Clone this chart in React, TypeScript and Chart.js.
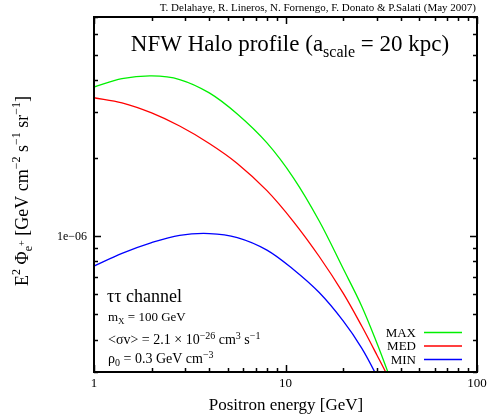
import React, { useEffect, useRef } from "react";
import { Chart, registerables } from "chart.js";

Chart.register(...registerables);

// ---- data ----
const energy = [1, 1.4, 2, 2.8, 4, 5.6, 8, 11, 15, 20, 25, 30, 35, 40];
const fluxMax = [3.76e-6, 4.05e-6, 4.15e-6, 4.02e-6, 3.57e-6, 2.96e-6, 2.29e-6, 1.68e-6, 1.145e-6, 7.51e-7, 5.38e-7, 3.88e-7, 2.87e-7, 2.18e-7];
const fluxMed = [3.42e-6, 3.27e-6, 2.99e-6, 2.66e-6, 2.28e-6, 1.91e-6, 1.5e-6, 1.14e-6, 8.36e-7, 6.04e-7, 4.51e-7, 3.49e-7, 2.79e-7, 2.24e-7];
const fluxMin = [7.68e-7, 8.6e-7, 9.46e-7, 1.009e-6, 1.025e-6, 9.89e-7, 8.85e-7, 7.45e-7, 6.07e-7, 4.72e-7, 3.71e-7, 2.89e-7, 2.26e-7, 1.8e-7];
const seriesLabels = ["MAX", "MED", "MIN"];
const seriesColors = ["#00f000", "#ff0000", "#0000ff"];

const xTickValues = [1, 10, 100];
const xTickLabels = ["1", "10", "100"];
const yTickValues = [1e-6];
const yTickLabels = ["1e\u221206"];
const xMin = 1;
const xMax = 100;
const yMin = 3e-7;
const yMax = 7e-6;

const FONT = "'Liberation Serif', 'DejaVu Serif', serif";

type Part = [string, number, number];

function richWidth(ctx: CanvasRenderingContext2D, parts: Part[]) {
  let w = 0;
  for (const [t, s] of parts) {
    ctx.font = `${s}px ${FONT}`;
    w += ctx.measureText(t).width;
  }
  return w;
}

function drawRich(ctx: CanvasRenderingContext2D, parts: Part[], x: number, y: number, align: "left" | "center" | "right") {
  const w = richWidth(ctx, parts);
  let cx = align === "left" ? x : align === "center" ? x - w / 2 : x - w;
  ctx.textAlign = "left";
  ctx.textBaseline = "alphabetic";
  for (const [t, s, dy] of parts) {
    ctx.font = `${s}px ${FONT}`;
    ctx.fillText(t, cx, y + dy);
    cx += ctx.measureText(t).width;
  }
}

function minorTicks(min: number, max: number) {
  const out: number[] = [];
  for (let e = Math.floor(Math.log10(min)); e <= Math.ceil(Math.log10(max)); e++) {
    for (let m = 1; m <= 9; m++) {
      const v = m * Math.pow(10, e);
      if (v >= min * 0.999 && v <= max * 1.001) out.push(v);
    }
  }
  return out;
}

const decorPlugin = {
  id: "decor",
  beforeDraw(chart: any) {
    const ctx = chart.ctx;
    ctx.save();
    ctx.fillStyle = "#fff";
    ctx.fillRect(0, 0, chart.width, chart.height);
    ctx.restore();
  },
  afterDraw(chart: any) {
    const ctx: CanvasRenderingContext2D = chart.ctx;
    const { left, right, top, bottom } = chart.chartArea;
    const xs = chart.scales.x;
    const ys = chart.scales.y;
    ctx.save();
    ctx.strokeStyle = "#000";
    ctx.fillStyle = "#000";

    // ticks
    ctx.lineWidth = 1.5;
    ctx.beginPath();
    for (const v of minorTicks(xMin, xMax)) {
      const px = Math.round(xs.getPixelForValue(v)) + 0.5;
      const major = Math.abs(Math.log10(v) - Math.round(Math.log10(v))) < 1e-9;
      const len = major ? 7 : 4;
      ctx.moveTo(px, bottom);
      ctx.lineTo(px, bottom - len);
      ctx.moveTo(px, top);
      ctx.lineTo(px, top + len);
    }
    for (const v of minorTicks(yMin, yMax)) {
      const py = Math.round(ys.getPixelForValue(v)) + 0.5;
      const major = Math.abs(Math.log10(v) - Math.round(Math.log10(v))) < 1e-9;
      const len = major ? 7 : 4;
      ctx.moveTo(left, py);
      ctx.lineTo(left + len, py);
      ctx.moveTo(right, py);
      ctx.lineTo(right - len, py);
    }
    ctx.stroke();

    // frame
    ctx.lineWidth = 2;
    ctx.strokeRect(left, top, right - left, bottom - top);

    // tick labels
    ctx.font = `13px ${FONT}`;
    ctx.textAlign = "center";
    ctx.textBaseline = "alphabetic";
    xTickValues.forEach((v, i) => {
      ctx.fillText(xTickLabels[i], xs.getPixelForValue(v), bottom + 15);
    });
    ctx.font = `12px ${FONT}`;
    ctx.textAlign = "right";
    ctx.textBaseline = "middle";
    yTickValues.forEach((v, i) => {
      ctx.fillText(yTickLabels[i], left - 7, ys.getPixelForValue(v) + 1);
    });

    // credit
    ctx.font = `11px ${FONT}`;
    ctx.textAlign = "right";
    ctx.textBaseline = "alphabetic";
    ctx.fillText("T. Delahaye, R. Lineros, N. Fornengo, F. Donato & P.Salati (May 2007)", 476, 11);

    // title
    drawRich(ctx, [["NFW Halo profile (a", 23, 0], ["scale", 16, 6], [" = 20 kpc)", 23, 0]], 290, 51, "center");

    // axis titles
    drawRich(ctx, [["Positron energy [GeV]", 17, 0]], 286, 410, "center");
    ctx.save();
    ctx.translate(28, 191);
    ctx.rotate(-Math.PI / 2);
    drawRich(
      ctx,
      [
        ["E", 18, 0], ["2", 12, -8], [" \u03A6", 18, 0], ["e", 12, 4], ["+", 10, -3],
        [" [GeV cm", 18, 0], ["\u22122", 12, -8], [" s", 18, 0], ["\u22121", 12, -8],
        [" sr", 18, 0], ["\u22121", 12, -8], ["]", 18, 0],
      ],
      0, 0, "center"
    );
    ctx.restore();

    // annotations
    drawRich(ctx, [["\u03C4\u03C4 channel", 18, 0]], 107, 302, "left");
    drawRich(ctx, [["m", 13, 0], ["X", 9, 3], [" = 100 GeV", 13, 0]], 108, 321, "left");
    drawRich(
      ctx,
      [["<\u03C3v> = 2.1 \u00D7 10", 14, 0], ["\u221226", 10, -5], [" cm", 14, 0], ["3", 10, -5], [" s", 14, 0], ["\u22121", 10, -5]],
      108, 344, "left"
    );
    drawRich(ctx, [["\u03C1", 14, 0], ["0", 10, 3], [" = 0.3 GeV cm", 14, 0], ["\u22123", 10, -5]], 108, 363, "left");

    // legend
    chart.data.datasets.forEach((ds: any, i: number) => {
      const ly = 332.5 + i * 13.5;
      ctx.font = `13px ${FONT}`;
      ctx.textAlign = "right";
      ctx.textBaseline = "middle";
      ctx.fillStyle = "#000";
      ctx.fillText(ds.label, 416, ly + 1);
      ctx.strokeStyle = ds.borderColor;
      ctx.lineWidth = 1.3;
      ctx.beginPath();
      ctx.moveTo(424, ly);
      ctx.lineTo(462, ly);
      ctx.stroke();
    });
    ctx.restore();
  },
};

export default function App() {
  const ref = useRef<HTMLCanvasElement | null>(null);
  useEffect(() => {
    document.body.style.margin = "0";
    if (!ref.current) return;
    const series = [fluxMax, fluxMed, fluxMin];
    const chart = new Chart(ref.current, {
      type: "line",
      data: {
        datasets: series.map((arr, i) => ({
          label: seriesLabels[i],
          data: energy.map((e, j) => ({ x: e, y: arr[j] })),
          borderColor: seriesColors[i],
          borderWidth: 1.3,
          pointRadius: 0,
          tension: 0.35,
          fill: false,
        })),
      },
      options: {
        animation: false,
        responsive: false,
        maintainAspectRatio: false,
        layout: { padding: { left: 94, top: 17, right: 13, bottom: 48 } },
        plugins: { legend: { display: false }, tooltip: { enabled: false }, title: { display: false } },
        scales: {
          x: { type: "logarithmic", min: xMin, max: xMax, display: false },
          y: { type: "logarithmic", min: yMin, max: yMax, display: false },
        },
      },
      plugins: [decorPlugin],
    });
    return () => chart.destroy();
  }, []);
  return (
    <div style={{ width: 490, height: 420 }}>
      <canvas ref={ref} width={490} height={420} style={{ width: 490, height: 420 }} />
    </div>
  );
}
